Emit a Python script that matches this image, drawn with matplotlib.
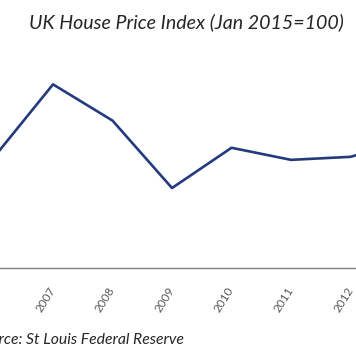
import matplotlib.pyplot as plt

# UK House Price Index
years = [2006, 2007, 2008, 2009, 2010, 2011, 2012, 2013]
index = [81.8, 96.4, 89.2, 75.8, 83.8, 81.4, 82.0, 85.4]
tick_years = [2007, 2008, 2009, 2010, 2011, 2012]
tick_labels = ['2007', '2008', '2009', '2010', '2011', '2012']

plt.rcParams['font.family'] = ['Lato', 'DejaVu Sans']

fig = plt.figure(figsize=(3.56, 3.64), dpi=100)
# axes run past both sides of the figure, like the cropped original
ax = fig.add_axes([0, 0.265, 1, 0.6])

ax.plot(years, index, color='#243a7e', linewidth=1.9)
ax.set_xlim(2006.109, 2012.092)
ax.set_ylim(60, 103.4)

for s in ['top', 'left', 'right']:
    ax.spines[s].set_visible(False)
ax.spines['bottom'].set_color('#7f7f7f')
ax.spines['bottom'].set_linewidth(1.0)
ax.set_yticks([])
ax.set_xticks(tick_years)
ax.set_xticklabels(tick_labels, rotation=58, ha='right', va='center',
                   rotation_mode='anchor', fontsize=8.5, color='#595959')
ax.tick_params(axis='x', length=0, pad=15)

fig.text(0.524, 0.938, 'UK House Price Index (Jan 2015=100)', ha='center',
         va='center', fontsize=14.1, style='italic', color='#262626')
fig.text(184 / 356, 0.066, 'Source: St Louis Federal Reserve', ha='right',
         va='center', fontsize=11.3, style='italic', color='#262626')

fig.savefig('out.png', dpi=100)
